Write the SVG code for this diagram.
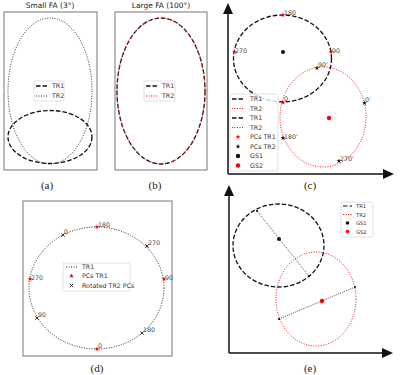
<svg xmlns="http://www.w3.org/2000/svg" xmlns:xlink="http://www.w3.org/1999/xlink" width="400" height="375" viewBox="0 0 400 375">
<style>
.t{font-family:"DejaVu Sans",sans-serif;fill:#333}
.tt{font-family:"DejaVu Sans",sans-serif;font-size:7.5px;fill:#222;text-anchor:middle}
.lg{font-family:"DejaVu Sans",sans-serif;font-size:6.3px;fill:#333}
.pl{font-family:"DejaVu Sans",sans-serif;font-size:6.3px;fill:#444}
.cap{font-family:"Liberation Serif",serif;font-size:11px;fill:#222;text-anchor:middle}
.box{fill:#fff;stroke:#777;stroke-width:1}
.leg{fill:#fff;fill-opacity:0.8;stroke:#ccc;stroke-width:0.6}
.dash{fill:none;stroke:#111;stroke-width:1.3;stroke-dasharray:4.5 2}
.dotk{fill:none;stroke:#222;stroke-width:1;stroke-dasharray:1 1.5}
.dotr{fill:none;stroke:#f00;stroke-width:1;stroke-dasharray:1 1.5}
.redover{fill:none;stroke:#f22;stroke-width:0.9;stroke-dasharray:1.5 1.5}
.axis{stroke:#111;stroke-width:1.5;fill:none}
.ln{stroke:#333;stroke-width:0.9;stroke-dasharray:1 1.2;fill:none}
</style>
<defs>
<path id="star" d="M0,-2.6 L0.62,-0.85 L2.47,-0.8 L1,0.32 L1.53,2.1 L0,1.05 L-1.53,2.1 L-1,0.32 L-2.47,-0.8 L-0.62,-0.85 Z"/>
<path id="xm" d="M-1.7,-1.7 L1.7,1.7 M-1.7,1.7 L1.7,-1.7" stroke="#222" stroke-width="0.9" fill="none"/>
</defs>

<!-- Panel (a) -->
<g id="panel-a">
<text class="tt" x="50" y="8">Small FA (3°)</text>
<rect class="box" x="4" y="12" width="93" height="158"/>
<ellipse id="a-tr2" class="dotk" cx="50" cy="91" rx="42" ry="73"/>
<ellipse id="a-tr1" class="dash" cx="50" cy="137" rx="42" ry="26.5"/>
<g id="a-legend">
<rect class="leg" x="34" y="81" width="30" height="20" rx="1.5"/>
<line class="dash" x1="36" y1="86" x2="47" y2="86"/>
<text class="lg" x="52" y="88.2">TR1</text>
<line class="dotk" x1="36" y1="96" x2="47" y2="96"/>
<text class="lg" x="52" y="98.2">TR2</text>
</g>
<text class="cap" x="47" y="189">(a)</text>
</g>

<!-- Panel (b) -->
<g id="panel-b">
<text class="tt" x="161" y="8">Large FA (100°)</text>
<rect class="box" x="115" y="12" width="92" height="158"/>
<ellipse id="b-tr1" class="dash" cx="161" cy="91" rx="44" ry="73"/>
<ellipse id="b-tr2" class="redover" cx="161" cy="91" rx="44" ry="73"/>
<g id="b-legend">
<rect class="leg" x="144" y="81" width="31" height="20" rx="1.5"/>
<line class="dash" x1="146" y1="86" x2="157" y2="86"/>
<text class="lg" x="162" y="88.2">TR1</text>
<line class="dotr" x1="146" y1="96" x2="157" y2="96"/>
<text class="lg" x="162" y="98.2">TR2</text>
</g>
<text class="cap" x="155" y="189">(b)</text>
</g>

<!-- Panel (c) -->
<g id="panel-c">
<g id="c-axes">
<line class="axis" x1="228" y1="174" x2="228" y2="12"/>
<line class="axis" x1="228" y1="174" x2="385" y2="174"/>
<polygon points="228,3 223,14 233,14" fill="#111"/>
<polygon points="394,174 383,169 383,179" fill="#111"/>
</g>
<ellipse id="c-tr1" class="dash" cx="282.5" cy="58.5" rx="49" ry="43.5"/>
<ellipse id="c-tr2" class="dotr" cx="323" cy="117" rx="43" ry="50"/>
<circle id="c-gs1" cx="283" cy="52" r="2" fill="#111"/>
<circle id="c-gs2" cx="329" cy="118" r="2.2" fill="#f00"/>
<g id="c-pcs1" fill="#f00">
<use xlink:href="#star" x="283" y="15"/>
<use xlink:href="#star" x="234.5" y="52"/>
<use xlink:href="#star" x="331" y="52"/>
<use xlink:href="#star" x="283" y="102.5"/>
</g>
<g id="c-pcs2" fill="#111">
<use xlink:href="#star" x="317" y="68"/>
<use xlink:href="#star" x="364.5" y="103"/>
<use xlink:href="#star" x="283" y="138"/>
<use xlink:href="#star" x="339" y="161"/>
</g>
<g id="c-labels">
<text class="pl" x="284" y="15">180</text>
<text class="pl" x="235" y="53">270</text>
<text class="pl" x="332" y="53">90</text>
<text class="pl" x="284" y="101">0</text>
<text class="pl" x="318" y="67">90'</text>
<text class="pl" x="365" y="102">0'</text>
<text class="pl" x="284" y="139">180'</text>
<text class="pl" x="340" y="161">270'</text>
</g>
<g id="c-legend">
<rect class="leg" x="230" y="94" width="48" height="77" rx="1.5"/>
<line class="dash" x1="232" y1="99" x2="244" y2="99"/>
<text class="lg" x="250" y="101.2">TR1</text>
<line class="dotr" x1="232" y1="108.5" x2="244" y2="108.5"/>
<text class="lg" x="250" y="110.7">TR2</text>
<line class="dash" x1="232" y1="118" x2="244" y2="118"/>
<text class="lg" x="250" y="120.2">TR1</text>
<line class="dotr" x1="232" y1="127.5" x2="244" y2="127.5"/>
<text class="lg" x="250" y="129.7">TR2</text>
<use xlink:href="#star" x="238" y="137" fill="#f00"/>
<text class="lg" x="250" y="139.2">PCs TR1</text>
<use xlink:href="#star" x="238" y="146.5" fill="#111"/>
<text class="lg" x="250" y="148.7">PCs TR2</text>
<circle cx="238" cy="156" r="2.2" fill="#111"/>
<text class="lg" x="250" y="158.2">GS1</text>
<circle cx="238" cy="165.5" r="2.2" fill="#f00"/>
<text class="lg" x="250" y="167.7">GS2</text>
</g>
<text class="cap" x="310" y="189">(c)</text>
</g>

<!-- Panel (d) -->
<g id="panel-d">
<rect class="box" x="23" y="201" width="149" height="155"/>
<ellipse id="d-tr1" class="dotk" cx="96.5" cy="288" rx="67.5" ry="61"/>
<g id="d-pcs1" fill="#f00">
<use xlink:href="#star" x="97" y="227"/>
<use xlink:href="#star" x="30" y="279"/>
<use xlink:href="#star" x="164" y="279"/>
<use xlink:href="#star" x="97" y="349"/>
</g>
<g id="d-rot">
<use xlink:href="#xm" x="63" y="235"/>
<use xlink:href="#xm" x="147" y="246"/>
<use xlink:href="#xm" x="37" y="318"/>
<use xlink:href="#xm" x="142" y="333"/>
</g>
<g id="d-labels">
<text class="pl" x="98" y="227">180</text>
<text class="pl" x="31" y="280">270</text>
<text class="pl" x="165" y="280">90</text>
<text class="pl" x="98" y="348">0</text>
<text class="pl" x="64" y="234">0</text>
<text class="pl" x="148" y="245">270</text>
<text class="pl" x="38" y="317">90</text>
<text class="pl" x="143" y="332">180</text>
</g>
<g id="d-legend">
<rect class="leg" x="63" y="263" width="67" height="28" rx="1.5"/>
<line class="dotk" x1="66" y1="267" x2="77" y2="267"/>
<text class="lg" x="82" y="269.2">TR1</text>
<use xlink:href="#star" x="71.5" y="276" fill="#f00"/>
<text class="lg" x="82" y="278.2">PCs TR1</text>
<use xlink:href="#xm" x="71.5" y="285.5"/>
<text class="lg" x="82" y="287.7">Rotated TR2 PCs</text>
</g>
<text class="cap" x="97" y="372">(d)</text>
</g>

<!-- Panel (e) -->
<g id="panel-e">
<g id="e-axes">
<line class="axis" x1="229" y1="353" x2="229" y2="194"/>
<line class="axis" x1="229" y1="353" x2="384" y2="353"/>
<polygon points="229,185 224,196 234,196" fill="#111"/>
<polygon points="393,353 382,348 382,358" fill="#111"/>
</g>
<ellipse id="e-tr1" class="dash" cx="278.5" cy="245.5" rx="45.5" ry="41.5"/>
<ellipse id="e-tr2" class="dotr" cx="316" cy="299" rx="40" ry="47"/>
<g id="e-axes-lines">
<line class="ln" x1="257" y1="211" x2="309" y2="276"/>
<line class="ln" x1="279" y1="319" x2="355" y2="287"/>
<circle cx="257" cy="211" r="1.1" fill="#111"/>
<circle cx="309" cy="276" r="1.1" fill="#111"/>
<circle cx="279" cy="319" r="1.1" fill="#111"/>
<circle cx="355" cy="287" r="1.1" fill="#111"/>
</g>
<circle id="e-gs1" cx="279" cy="239" r="2" fill="#111"/>
<circle id="e-gs2" cx="322" cy="301" r="2.2" fill="#f00"/>
<g id="e-legend">
<rect class="leg" x="341" y="202" width="32" height="35" rx="1.5"/>
<line class="dash" x1="343" y1="206" x2="352" y2="206" style="stroke-width:1"/>
<text class="lg" x="356" y="208" style="font-size:5.2px">TR1</text>
<line class="dotr" x1="343" y1="214.5" x2="352" y2="214.5"/>
<text class="lg" x="356" y="216.5" style="font-size:5.2px">TR2</text>
<circle cx="347.5" cy="223" r="1.8" fill="#111"/>
<text class="lg" x="356" y="225" style="font-size:5.2px">GS1</text>
<circle cx="347.5" cy="231.5" r="1.8" fill="#f00"/>
<text class="lg" x="356" y="233.5" style="font-size:5.2px">GS2</text>
</g>
<text class="cap" x="310" y="372">(e)</text>
</g>
</svg>
